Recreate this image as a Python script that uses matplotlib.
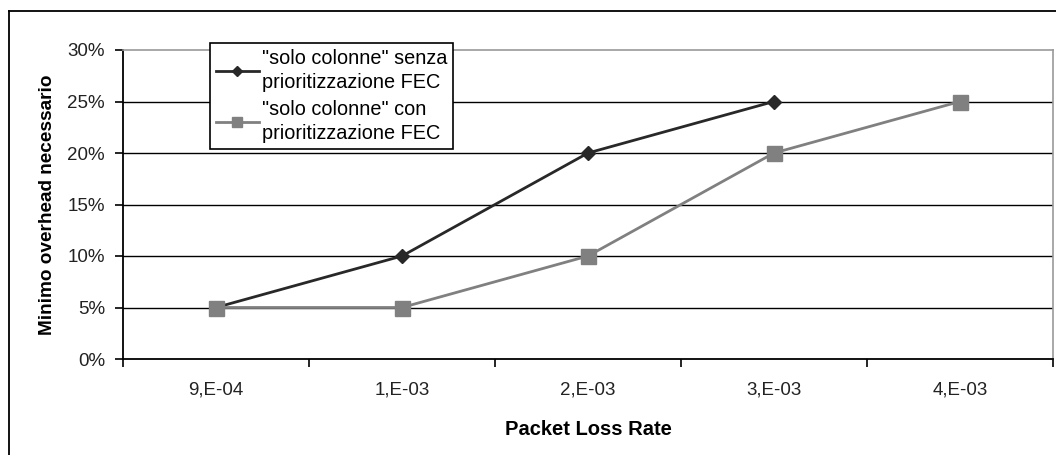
import matplotlib.pyplot as plt
import numpy as np

plt.rcParams['font.family'] = ['Liberation Sans', 'DejaVu Sans']

# Data
categories = ['9,E-04', '1,E-03', '2,E-03', '3,E-03', '4,E-03']
senza_fec = [5, 10, 20, 25, np.nan]   # "solo colonne" senza prioritizzazione FEC
con_fec = [5, 5, 10, 20, 25]          # "solo colonne" con prioritizzazione FEC
yticks = [0, 5, 10, 15, 20, 25, 30]

W, H = 1056, 455
fig = plt.figure(figsize=(W / 100, H / 100), dpi=100)
ax = fig.add_axes([123 / W, 1 - 359 / H, 930 / W, 309 / H])

# Outer chart frame (top and left visible, rest cut off)
fig.add_artist(plt.Line2D([9 / W, 1.0], [1 - 11 / H, 1 - 11 / H], color='black', lw=1.3,
                          transform=fig.transFigure))
fig.add_artist(plt.Line2D([9 / W, 9 / W], [0, 1 - 11 / H], color='black', lw=1.3,
                          transform=fig.transFigure))

x = np.arange(len(categories))

# Gridlines
for v in yticks[1:-1]:
    ax.axhline(v, color='black', lw=1.0, zorder=1)

ax.plot(x, senza_fec, color='#282828', lw=2, marker='D', markersize=7.6,
        label='"solo colonne" senza\nprioritizzazione FEC', zorder=3)
ax.plot(x, con_fec, color='#808080', lw=2, marker='s', markersize=10.8,
        label='"solo colonne" con\nprioritizzazione FEC', zorder=3)

ax.set_xlim(-0.5, len(categories) - 0.5)
ax.set_ylim(0, 30)

ax.set_yticks(yticks)
ax.set_yticklabels([f'{v}%' for v in yticks], fontsize=13.5, color='#222222')
ax.set_xticks(x)
ax.set_xticklabels(categories, fontsize=13.5, color='#222222')
ax.set_xticks(np.arange(-0.5, len(categories)), minor=True)
ax.tick_params(axis='x', which='major', length=0, pad=16)
ax.tick_params(axis='x', which='minor', length=6, width=1.2, color='black')
ax.tick_params(axis='y', length=6, width=1.2, color='black', pad=7)

for side in ['top', 'right']:
    ax.spines[side].set_color('#999999')
    ax.spines[side].set_linewidth(1.2)
for side in ['left', 'bottom']:
    ax.spines[side].set_color('black')
    ax.spines[side].set_linewidth(1.3)

ax.set_xlabel('Packet Loss Rate', fontsize=14.5, fontweight='bold', labelpad=16)
ax.set_ylabel('Minimo overhead necessario', fontsize=13.7, fontweight='bold', labelpad=8)

leg = ax.legend(loc='upper left', bbox_to_anchor=(210 / W, 1 - 43 / H),
                bbox_transform=fig.transFigure, borderaxespad=0, fontsize=14.3,
                fancybox=False, framealpha=1, edgecolor='black', handlelength=2.15,
                handletextpad=0.15, borderpad=0.3, labelspacing=0.4, markerscale=0.72)
leg.get_frame().set_linewidth(1.2)
for t in leg.get_texts():
    t.set_linespacing(1.35)
leg.set_zorder(5)

fig.savefig('out.png', dpi=100)
